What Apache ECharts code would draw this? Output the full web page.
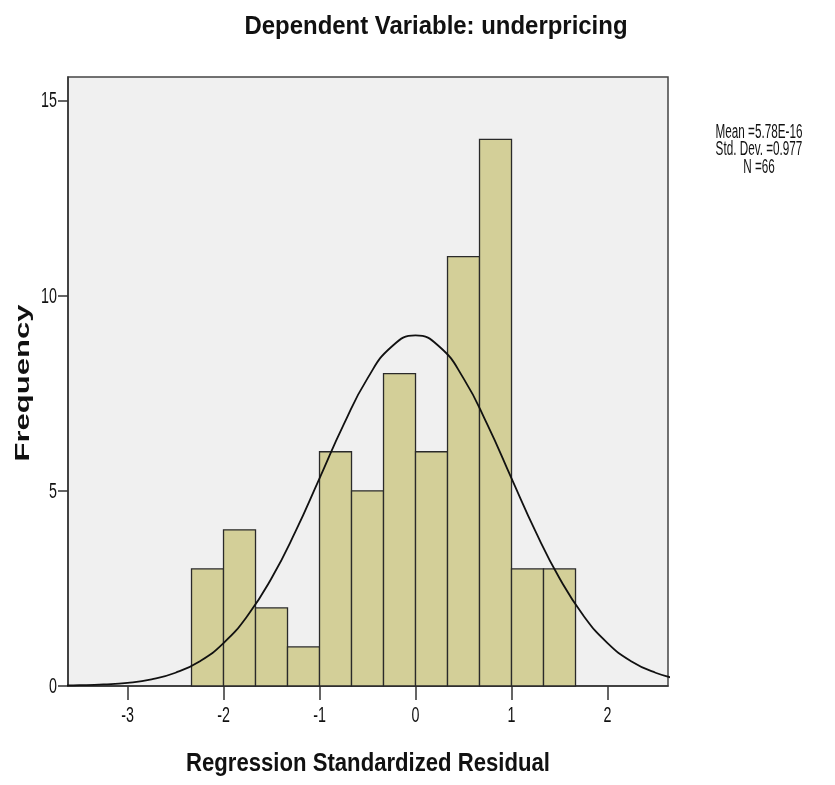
<!DOCTYPE html>
<html lang="en">
<head>
  <meta charset="UTF-8">
  <title>Histogram - underpricing</title>
  <script src="https://cdn.jsdelivr.net/npm/echarts@6/dist/echarts.min.js"></script>
  <style>
    html, body { margin: 0; padding: 0; background: #fff; }
    #chart { width: 835px; height: 785px; }
  </style>
</head>
<body>
  <div id="chart"></div>
  <script>
    // bin edges (width 1/3) and frequencies
    const binStarts = [-7/3, -2, -5/3, -4/3, -1, -2/3, -1/3, 0, 1/3, 2/3, 1, 4/3];
    const binWidth = 1/3;
    const counts = [3, 4, 2, 1, 6, 5, 8, 6, 11, 14, 3, 3];

    // normal curve
    const curveX = [-3.75, -3.5, -3.25, -3, -2.75, -2.5, -2.25, -2, -1.75, -1.5, -1.25, -1, -0.75, -0.5, -0.25,
                    0, 0.25, 0.5, 0.75, 1, 1.25, 1.5, 1.75, 2, 2.25, 2.5, 2.75];
    const curveY = [0.01, 0.02, 0.04, 0.08, 0.17, 0.34, 0.63, 1.1, 1.8, 2.76, 3.96, 5.32, 6.69, 7.88, 8.69,
                    8.98, 8.69, 7.88, 6.69, 5.32, 3.96, 2.76, 1.8, 1.1, 0.63, 0.34, 0.17];

    const xTicks = [-3, -2, -1, 0, 1, 2];
    const yTicks = [0, 5, 10, 15];
    const titleText = 'Dependent Variable: underpricing';
    const xName = 'Regression Standardized Residual';
    const yName = 'Frequency';
    const statsLines = ['Mean =5.78E-16', 'Std. Dev. =0.977', 'N =66'];

    const family = '"Liberation Sans", Arial, sans-serif';

    // the original text is squeezed sideways, so measure and scale
    const ctx = document.createElement('canvas').getContext('2d');
    function textWidth(t, font) {
      ctx.font = font;
      return ctx.measureText(t).width;
    }

    function label(t, x, y, size, weight, opts) {
      opts = opts || {};
      const font = (weight || 'normal') + ' ' + size + 'px ' + family;
      let sx = opts.scale || 1;
      if (opts.width) sx = opts.width / textWidth(t, font);
      return {
        type: 'text',
        x: x, y: y,
        scaleX: sx,
        rotation: opts.rotation || 0,
        silent: true,
        z: 10,
        style: {
          text: t, font: font, fill: '#111',
          textAlign: opts.align || 'center',
          textVerticalAlign: 'middle', verticalAlign: 'middle'
        }
      };
    }

    const chart = echarts.init(document.getElementById('chart'));

    const option = {
      animation: false,
      backgroundColor: '#ffffff',
      grid: {
        left: 68, right: 167, top: 77, bottom: 99,
        show: true, backgroundColor: '#f0f0f0', borderColor: '#444', borderWidth: 1.5
      },
      xAxis: {
        type: 'value', min: -3.62, max: 2.63,
        axisLine: { show: true, onZero: false, lineStyle: { color: '#333', width: 1.5 } },
        axisTick: { show: true, length: 14, customValues: xTicks, lineStyle: { color: '#333', width: 1.5 } },
        axisLabel: { show: false, customValues: xTicks },
        splitLine: { show: false }
      },
      yAxis: {
        type: 'value', min: 0, max: 15.6,
        axisLine: { show: true, onZero: false, lineStyle: { color: '#333', width: 1.5 } },
        axisTick: { show: true, length: 10, customValues: yTicks, lineStyle: { color: '#333', width: 1.5 } },
        axisLabel: { show: false, customValues: yTicks },
        splitLine: { show: false }
      },
      series: [
        {
          type: 'custom',
          data: counts.map((c, i) => [binStarts[i], c]),
          renderItem: function (params, api) {
            const x0 = api.value(0);
            const p0 = api.coord([x0, api.value(1)]);
            const p1 = api.coord([x0 + binWidth, 0]);
            return {
              type: 'rect',
              shape: { x: p0[0], y: p0[1], width: p1[0] - p0[0], height: p1[1] - p0[1] },
              style: { fill: '#d3cf98', stroke: '#2a2a2a', lineWidth: 1.3 }
            };
          },
          z: 2
        },
        {
          type: 'line',
          data: curveX.map((x, i) => [x, curveY[i]]),
          smooth: true,
          showSymbol: false,
          clip: true,
          lineStyle: { color: '#111', width: 1.8 },
          z: 3
        }
      ]
    };

    chart.setOption(option);

    // texts and tick labels, placed through the axes
    const graphics = [];
    graphics.push(label(titleText, 436, 27, 26, 'bold', { width: 383 }));
    graphics.push(label(xName, 368, 764, 25, 'bold', { width: 364 }));
    graphics.push(label(yName, 23, 383, 21, 'bold', { width: 157, rotation: Math.PI / 2 }));

    const statsScale = 87 / textWidth(statsLines[0], 'normal 20px ' + family);
    statsLines.forEach((t, i) => {
      graphics.push(label(t, 759, 132 + i * 17.6, 20, 'normal', { scale: statsScale }));
    });

    xTicks.forEach(v => {
      const px = chart.convertToPixel({ xAxisIndex: 0 }, v);
      graphics.push(label(String(v), px, 716, 22, 'normal', { scale: 0.65 }));
    });
    yTicks.forEach(v => {
      const py = chart.convertToPixel({ yAxisIndex: 0 }, v);
      graphics.push(label(String(v), 57, py + 1, 22, 'normal', { scale: 0.65, align: 'right' }));
    });

    chart.setOption({ graphic: graphics });
  </script>
</body>
</html>
